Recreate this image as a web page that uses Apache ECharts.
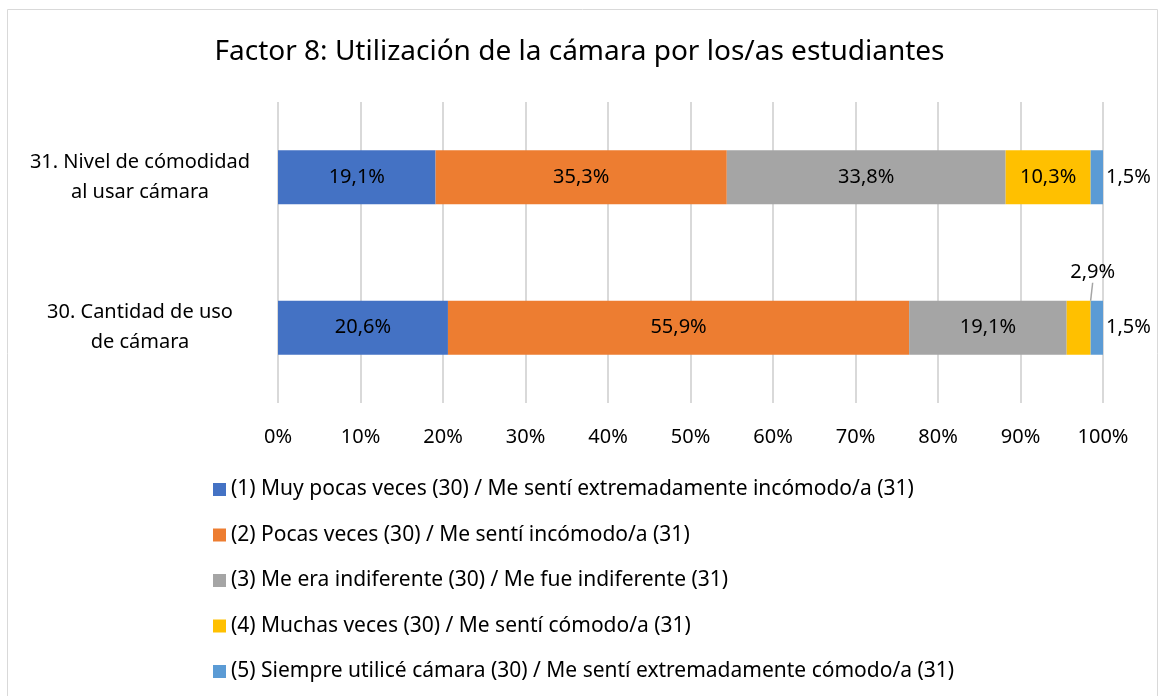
<!DOCTYPE html>
<html>
<head>
<meta charset="utf-8">
<script src="https://cdn.jsdelivr.net/npm/echarts@6/dist/echarts.min.js"></script>
<style>
  html, body { margin: 0; padding: 0; background: #fff; }
  #chart { width: 1159px; height: 696px; }
</style>
</head>
<body>
<div id="chart"></div>
<script>
// categories, bottom to top
const categories = ["30. Cantidad de uso\nde cámara", "31. Nivel de cómodidad\nal usar cámara"]
const seriesNames = [
  "(1) Muy pocas veces (30) / Me sentí extremadamente incómodo/a (31)",
  "(2) Pocas veces (30) / Me sentí incómodo/a (31)",
  "(3) Me era indiferente (30) / Me fue indiferente (31)",
  "(4) Muchas veces (30) / Me sentí cómodo/a (31)",
  "(5) Siempre utilicé cámara (30) / Me sentí extremadamente cómodo/a (31)"
]
const muyPocas = [20.6, 19.1]
const pocas = [55.9, 35.3]
const indiferente = [19.1, 33.8]
const muchas = [2.9, 10.3]
const siempre = [1.5, 1.5]
const colors = ["#4472C4", "#ED7D31", "#A5A5A5", "#FFC000", "#5B9BD5"]

const FONT = "Noto Sans"
const chart = echarts.init(document.getElementById("chart"))

const fmt = p => p.value.toFixed(1).replace(".", ",") + "%"

const makeSeries = (name, values, idx) => {
  const s = {
    name: name,
    type: "bar",
    stack: "total",
    barWidth: 54,
    data: values,
    itemStyle: { color: colors[idx] },
    label: {
      show: true,
      position: "inside",
      color: "#000",
      fontFamily: FONT,
      fontSize: 20,
      formatter: fmt
    }
  }
  if (idx === 4) {
    s.label.position = "right"
    s.label.distance = 3
  }
  if (idx === 3) {
    // small segment on the bottom bar gets a callout label
    s.labelLine = { show: true, lineStyle: { color: "#a5a5a5", width: 1.5 } }
    s.labelLayout = p => (p.dataIndex === 0 ? { dx: 14, dy: -55 } : {})
  }
  return s
}

const option = {
  textStyle: { fontFamily: FONT },
  title: {
    text: "Factor 8: Utilización de la cámara por los/as estudiantes",
    left: "center",
    top: 33,
    textStyle: { fontFamily: FONT, fontSize: 28, fontWeight: "normal", color: "#000" }
  },
  graphic: [{
    type: "rect",
    shape: { x: 7.5, y: 9.5, width: 1150, height: 700 },
    style: { fill: "none", stroke: "#d9d9d9", lineWidth: 1 },
    silent: true
  }],
  legend: {
    type: "plain",
    orient: "vertical",
    left: 208,
    top: 474,
    height: 230,
    itemWidth: 13,
    itemHeight: 13,
    itemGap: 24.5,
    icon: "rect",
    textStyle: { fontFamily: FONT, fontSize: 21, color: "#000" },
    data: seriesNames
  },
  grid: { left: 278, right: 56, top: 102, bottom: 293 },
  xAxis: {
    type: "value",
    min: 0,
    max: 100,
    interval: 10,
    axisLine: { show: false },
    axisTick: { show: false },
    axisLabel: { formatter: "{value}%", color: "#000", fontFamily: FONT, fontSize: 20, margin: 24 },
    splitLine: { lineStyle: { color: "#d9d9d9", width: 2 } }
  },
  yAxis: {
    type: "category",
    data: categories,
    axisLine: { show: false },
    axisTick: { show: false },
    axisLabel: { align: "center", margin: 138, color: "#000", fontFamily: FONT, fontSize: 20, lineHeight: 30 }
  },
  series: [
    makeSeries(seriesNames[0], muyPocas, 0),
    makeSeries(seriesNames[1], pocas, 1),
    makeSeries(seriesNames[2], indiferente, 2),
    makeSeries(seriesNames[3], muchas, 3),
    makeSeries(seriesNames[4], siempre, 4)
  ]
}

chart.setOption(option)
window.addEventListener("resize", () => chart.resize())
</script>
</body>
</html>
